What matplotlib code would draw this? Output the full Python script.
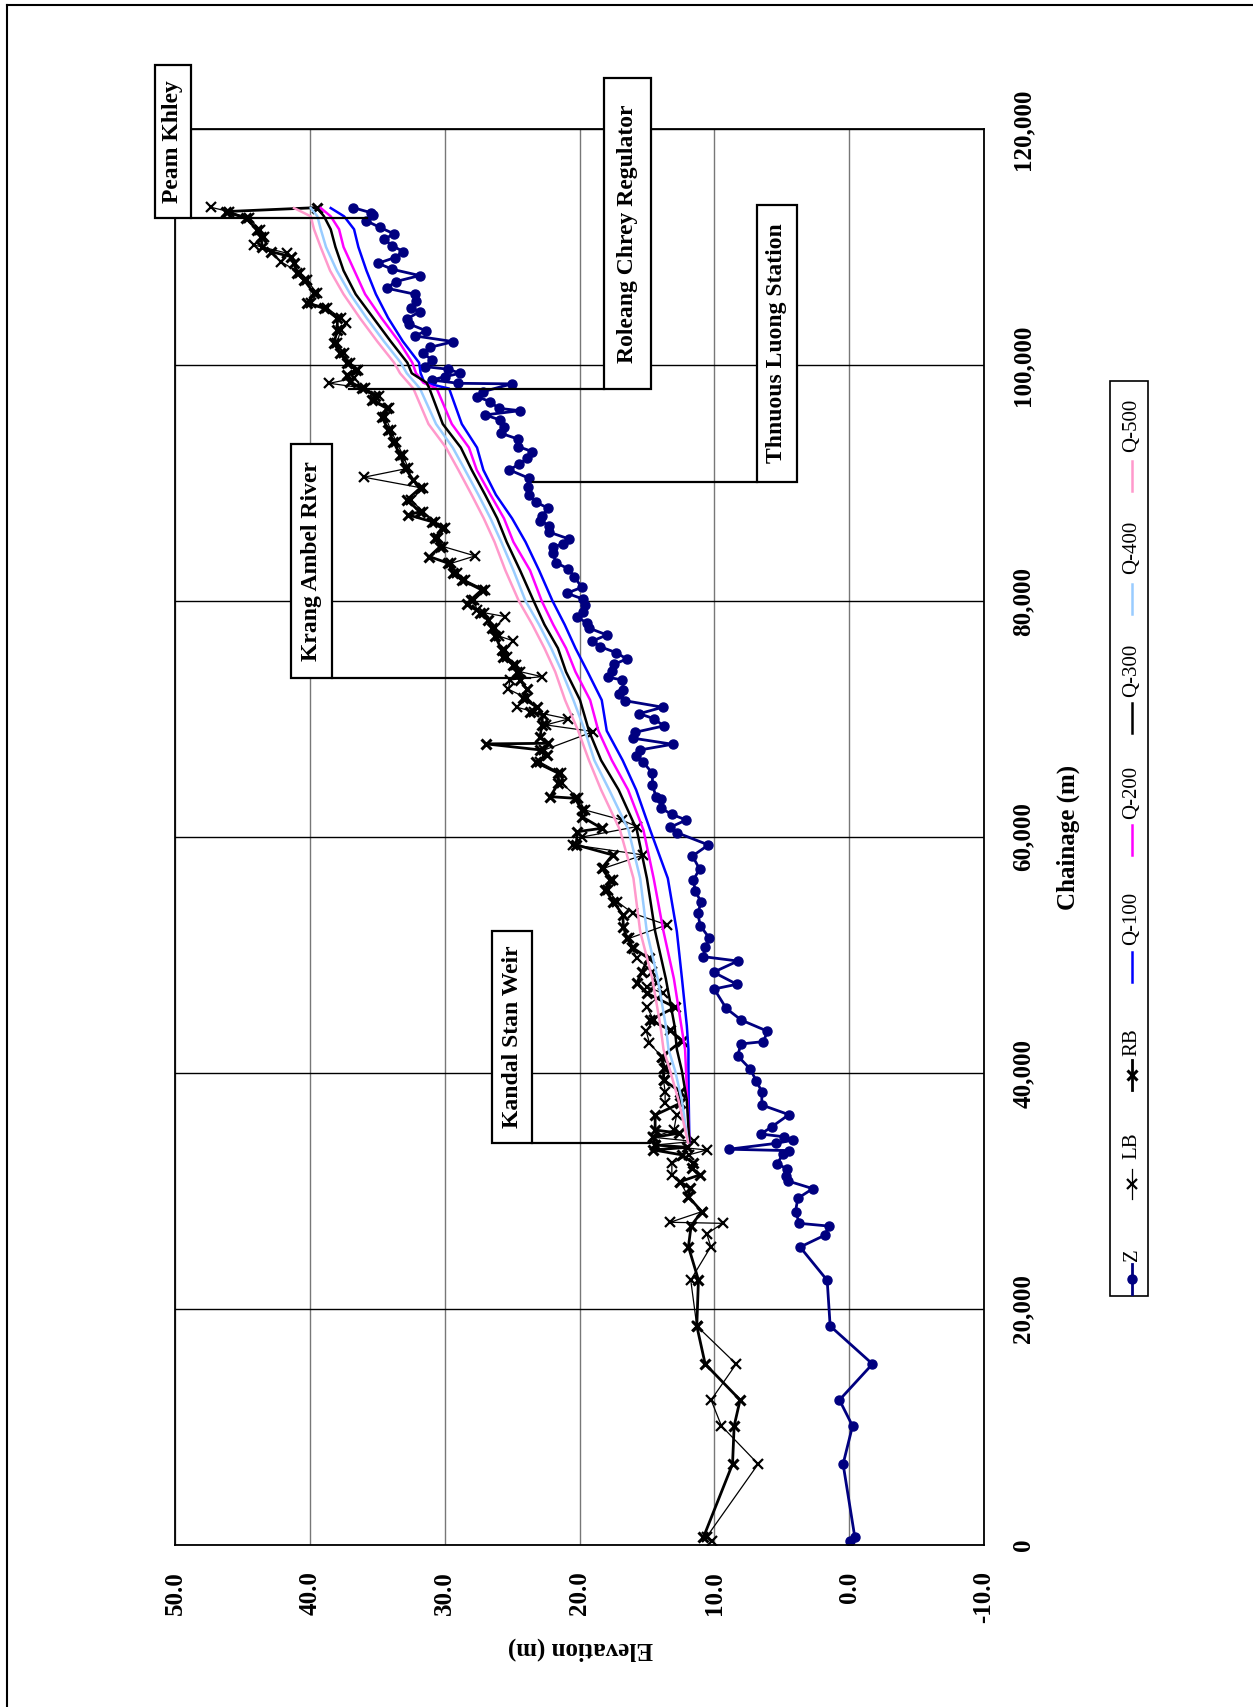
import matplotlib
matplotlib.use('Agg')
import matplotlib.pyplot as plt
from matplotlib.lines import Line2D
from matplotlib.patches import Rectangle

plt.rcParams['font.family'] = ['Liberation Serif', 'DejaVu Serif']

# bed level (Z) along the channel
z_chainage = [360, 650, 6860, 10090, 12290, 15340, 18560, 22430, 25250, 26270, 27030, 27260,
              28250, 29380, 30200, 30850, 31270, 31870, 32320, 33140, 33420, 33540, 34040, 34320,
              34600, 34830, 35450, 36470, 37290, 38420, 39350, 40340, 41440, 42460, 42660, 43540,
              44490, 45480, 47120, 47520, 48540, 49490, 49860, 50650, 51420, 52490, 53540, 54490,
              55430, 56360, 57290, 58390, 59330, 60370, 60820, 61440, 61920, 62430, 63220, 63420,
              64380, 65400, 66390, 66900, 67380, 67860, 68370, 68880, 69410, 70010, 70450, 71000,
              71550, 72100, 72460, 73310, 73540, 74070, 74640, 75090, 75620, 76130, 76610, 77120,
              77690, 78110, 78620, 79100, 79670, 80150, 80660, 81160, 82070, 82720, 83250, 84050,
              84610, 84810, 85260, 85830, 86360, 86810, 87210, 87860, 88370, 88990, 89690, 90400,
              91110, 91610, 92100, 92660, 93080, 93710, 94220, 94780, 95340, 95770, 96130, 96330,
              96900, 97320, 97750, 98400, 98450, 98730, 99010, 99300, 99640, 99860, 100430, 100990,
              101500, 101980, 102460, 102910, 103480, 103900, 104520, 104810, 105460, 106000, 106510,
              107070, 107580, 108110, 108620, 109100, 109610, 110120, 110660, 111110, 111670, 112240,
              112720, 112910, 113340]
z_elev = [-0.07, -0.42, 0.45, -0.25, 0.72, -1.73, 1.41, 1.63, 3.64, 1.78, 1.53, 3.69,
          3.98, 3.81, 2.70, 4.54, 4.71, 4.63, 5.32, 4.92, 4.43, 8.93, 5.41, 4.13,
          4.87, 6.55, 5.73, 4.47, 6.48, 6.48, 6.90, 7.34, 8.26, 8.04, 6.36, 6.06,
          8.01, 9.12, 10.01, 8.33, 10.06, 8.26, 10.81, 10.68, 10.36, 11.05, 11.22, 10.98,
          11.42, 11.55, 11.10, 11.62, 10.44, 12.78, 13.28, 12.09, 13.15, 13.95, 13.95, 14.32,
          14.59, 14.59, 15.31, 15.80, 15.50, 13.10, 16.00, 15.85, 13.77, 14.44, 15.56, 13.83,
          16.62, 17.04, 16.74, 16.82, 17.91, 17.56, 17.43, 16.49, 17.28, 18.47, 19.04, 17.97,
          19.26, 19.41, 20.15, 19.71, 19.56, 19.71, 20.94, 19.83, 20.40, 20.82, 21.74, 21.98,
          21.98, 21.19, 20.79, 22.23, 22.23, 22.90, 22.80, 22.31, 23.22, 23.72, 23.79, 23.74,
          25.20, 24.46, 23.86, 23.49, 24.53, 24.53, 25.84, 25.57, 25.89, 27.00, 24.41, 26.00,
          26.63, 27.62, 27.13, 25.02, 28.98, 30.96, 29.97, 28.86, 29.72, 31.45, 30.96, 31.58,
          31.08, 29.35, 32.17, 31.40, 32.64, 32.81, 31.85, 32.47, 32.15, 32.22, 34.30,
          33.63, 31.85, 33.88, 34.94, 33.70, 33.09, 33.88, 34.50, 33.75, 34.82, 35.85,
          35.31, 35.48, 36.80]

# left bank crest
lb_chainage = [300, 700, 6860, 10090, 12290, 15340, 18560, 22460, 25280, 26360, 27260, 27350,
               28250, 29520, 30790, 31360, 32350, 33060, 33480, 33900, 34200, 34550, 35170, 36440,
               37430, 38420, 39410, 40400, 41380, 42520, 43590, 44490, 45620, 46760, 47320, 47600,
               48590, 49720, 50570, 51420, 52550, 53540, 54520, 55510, 56360, 57350, 58480, 59330,
               60000, 60880, 61440, 62290, 63280, 64550, 65400, 66330, 67380, 68930, 69500, 70000,
               70620, 71000, 71760, 72520, 73310, 73590, 74010, 74580, 75280, 75850, 76640, 77040,
               77690, 78680, 79010, 79240, 80090, 80940, 81780, 82350, 83200, 83820, 84610, 85320,
               86160, 86730, 87570, 88560, 89560, 90490, 91250, 92380, 93510, 94500, 95630, 96330,
               97040, 97380, 98030, 98450, 98880, 99580, 100150, 101000, 101850, 102970, 103590,
               103960, 104810, 105230, 106080, 107210, 107780, 108760, 109470, 110170, 110880,
               111450, 112440, 113000, 113370]
lb_elev = [10.20, 10.56, 6.75, 9.47, 10.24, 8.38, 11.30, 11.75, 10.26, 10.56, 9.39, 13.28,
           10.93, 11.92, 12.54, 13.15, 13.15, 11.90, 10.56, 14.39, 11.50, 14.52, 13.00, 12.80,
           13.65, 13.65, 13.77, 13.60, 13.90, 14.81, 15.06, 14.50, 15.01, 13.83, 15.01, 14.27,
           14.60, 15.75, 16.10, 16.30, 13.52, 16.05, 17.20, 17.90, 17.50, 18.20, 15.26, 20.45,
           19.80, 15.75, 16.86, 19.60, 20.10, 21.30, 21.40, 22.90, 22.60, 18.97, 22.50, 20.82,
           23.40, 24.66, 23.90, 25.27, 25.15, 22.80, 24.40, 24.70, 25.40, 25.50, 24.96, 26.00,
           26.30, 25.52, 27.10, 27.62, 27.80, 27.00, 28.50, 29.10, 29.50, 27.74, 30.10, 30.50,
           30.00, 30.70, 31.60, 32.50, 31.60, 35.98, 32.70, 33.10, 33.60, 34.00, 34.40, 34.10,
           35.20, 34.90, 35.90, 38.55, 36.72, 36.40, 37.00, 37.50, 38.00, 37.70, 37.34,
           37.70, 38.70, 39.90, 39.50, 40.20, 40.70, 42.16, 41.67, 44.14, 43.40,
           43.70, 44.50, 46.00, 47.35]

# right bank crest
rb_chainage = [650, 6860, 10090, 12290, 15340, 18560, 22460, 25280, 27060, 28250, 29520, 30230,
               30790, 31360, 31930, 32350, 33060, 33480, 33700, 33900, 34550, 34900, 35170, 36440,
               37430, 38420, 39410, 40400, 41380, 42740, 43650, 44490, 45570, 46760, 47600, 48590,
               49720, 50570, 51420, 52400, 53390, 54520, 55510, 56360, 57350, 58480, 59330, 60450,
               60740, 61720, 62290, 63280, 63420, 64550, 65400, 66330, 66950, 67380, 67890, 67940,
               68500, 69500, 70340, 70620, 71000, 71760, 72520, 73310, 74010, 74580, 75280, 75850,
               77040, 77690, 78390, 79010, 79750, 80090, 80940, 81780, 82350, 83200, 83760, 84610,
               85320, 86160, 86730, 87290, 87570, 88560, 89560, 90260, 91250, 92380, 93510, 94500,
               95630, 96330, 97040, 97380, 98030, 98590, 99160, 99580, 100150, 101000, 101850,
               102970, 103960, 104810, 105230, 106080, 107210, 107780, 108620, 109190, 109610,
               110030, 110880, 111450, 112440, 113000, 113340]
rb_elev = [10.81, 8.65, 8.53, 8.09, 10.68, 11.30, 11.18, 11.92, 11.72, 10.93, 11.92, 11.80,
           12.54, 11.10, 11.67, 11.55, 12.40, 14.52, 12.00, 14.39, 14.52, 12.60, 14.39, 14.39,
           12.54, 12.54, 13.77, 13.77, 13.90, 12.41, 13.28, 14.76, 12.91, 15.01, 15.75, 15.38,
           14.88, 16.00, 16.49, 16.74, 16.79, 17.48, 18.10, 17.73, 18.35, 17.54, 20.25, 20.15,
           18.35, 19.83, 19.83, 20.33, 22.18, 21.56, 21.56, 23.22, 22.43, 22.92, 26.93, 22.36,
           22.92, 22.80, 22.73, 23.67, 23.17, 24.16, 23.91, 24.41, 24.66, 24.90, 25.64, 25.77,
           26.26, 26.51, 26.76, 27.37, 28.36, 28.07, 27.25, 28.73, 29.36, 29.73, 31.13, 30.34,
           30.71, 30.21, 30.96, 32.69, 31.83, 32.81, 31.83, 32.32, 32.94, 33.31, 33.80, 34.18,
           34.67, 34.30, 35.41, 35.16, 36.15, 37.02, 37.27, 36.60, 37.22, 37.76, 38.21,
           37.96, 37.96, 38.95, 40.19, 39.69, 40.43, 40.93, 41.17, 41.42, 42.90,
           43.52, 43.64, 43.89, 44.75, 46.24, 39.44]

# water surface profiles for each discharge
q_chainage = [34100, 37700, 40200, 42000, 44000, 48000, 52000, 56500, 60600, 64000, 66500, 69000,
              71600, 74000, 76000, 78000, 80000, 82600, 85000, 87000, 89000, 91100, 93000, 95000,
              98000, 98500, 99300, 100200, 102000, 104000, 106000, 108000, 110000, 111500, 112600,
              113300]
q100 = [11.85, 11.90, 11.92, 11.92, 12.04, 12.40, 12.78, 13.45, 14.76, 15.80, 16.80, 17.98,
        18.35, 19.40, 20.30, 21.10, 22.00, 23.00, 24.00, 25.00, 26.20, 27.13, 27.60, 28.73,
        29.67, 31.50, 31.78, 31.90, 33.10, 34.20, 35.10, 35.80, 36.40, 36.72, 37.46, 38.45]
q200 = [11.85, 12.00, 12.10, 12.17, 12.45, 13.00, 13.77, 14.50, 15.26, 16.40, 17.60, 18.60,
        19.21, 20.30, 21.00, 21.95, 22.80, 23.67, 24.90, 25.60, 26.60, 27.62, 28.20, 29.47,
        30.59, 31.58, 32.12, 32.40, 33.40, 34.70, 35.90, 36.70, 37.50, 37.83, 38.45, 39.19]
q300 = [11.85, 12.04, 12.41, 12.78, 12.95, 13.60, 14.39, 15.00, 15.75, 17.10, 18.40, 19.30,
        19.96, 21.00, 21.60, 22.60, 23.40, 24.41, 25.40, 26.10, 27.00, 27.99, 28.80, 30.14,
        31.13, 31.34, 32.44, 32.77, 34.00, 35.30, 36.60, 37.50, 38.10, 38.45, 38.95, 39.44]
q400 = [11.95, 12.41, 12.91, 13.40, 13.60, 14.20, 15.01, 15.50, 16.37, 17.80, 18.90, 19.60,
        20.45, 21.30, 22.10, 23.00, 24.00, 24.90, 25.80, 26.60, 27.50, 28.49, 29.40, 30.64,
        31.83, 32.20, 32.81, 33.26, 34.50, 35.80, 37.00, 38.00, 38.80, 39.19, 39.44, 39.93]
q500 = [11.95, 12.66, 13.28, 13.77, 14.00, 14.60, 15.50, 16.00, 17.00, 18.40, 19.30, 20.10,
        21.07, 21.80, 22.60, 23.50, 24.50, 25.50, 26.30, 27.10, 28.00, 28.98, 29.90, 31.20,
        32.32, 32.70, 33.31, 33.75, 35.00, 36.30, 37.50, 38.50, 39.20, 39.69, 39.93, 41.17]

elev_ticks = [50, 40, 30, 20, 10, 0, -10]
chain_ticks = [0, 20000, 40000, 60000, 80000, 100000, 120000]

W, H = 1253, 1707
fig = plt.figure(figsize=(W / 100, H / 100), dpi=100)


def fx(px):
    return px / W


def fy(py):
    return 1 - py / H


# page is laid out sideways: elevation runs across, chainage runs up
ax = fig.add_axes([fx(175), fy(1545), (984 - 175) / W, (1545 - 129) / H])
ax.set_xlim(50, -10)
ax.set_ylim(0, 120000)

ax.set_axisbelow(True)
ax.xaxis.grid(True, color='#777777', lw=1.0)
ax.yaxis.grid(True, color='black', lw=1.0)
for sp in ax.spines.values():
    sp.set_color('black')
    sp.set_linewidth(1.3)

series = [
    ('Z', z_elev, z_chainage, dict(color='#000080', lw=2.0, marker='o', ms=6.5)),
    ('LB', lb_elev, lb_chainage, dict(color='black', lw=0.9, marker='x', ms=7, mew=1.6)),
    ('RB', rb_elev, rb_chainage, dict(color='black', lw=2.0, marker='x', ms=7, mew=2.2)),
    ('Q-100', q100, q_chainage, dict(color='#0000ff', lw=1.8)),
    ('Q-200', q200, q_chainage, dict(color='#ff00ff', lw=1.8)),
    ('Q-300', q300, q_chainage, dict(color='black', lw=1.8)),
    ('Q-400', q400, q_chainage, dict(color='#99ccff', lw=1.8)),
    ('Q-500', q500, q_chainage, dict(color='#ff99cc', lw=1.8)),
]
for name, xs, ys, style in series:
    ax.plot(xs, ys, label=name, **style)

ax.set_xticks(elev_ticks)
ax.set_xticklabels([f'{v:.1f}' for v in elev_ticks], rotation=90, fontsize=18,
                   fontweight='bold', va='top', ha='center')
ax.tick_params(axis='x', length=0, pad=19)

ax.yaxis.tick_right()
ax.set_yticks(chain_ticks)
ax.set_yticklabels([f'{v:,}' for v in chain_ticks], rotation=90, fontsize=18,
                   fontweight='bold', va='center', ha='left')
ax.tick_params(axis='y', length=0, pad=20)

fig.text(fx(580), fy(1649), 'Elevation (m)', rotation=180, ha='center', va='center',
         fontsize=18, fontweight='bold')
fig.text(fx(1068), fy(837), 'Chainage (m)', rotation=90, ha='center', va='center',
         fontsize=18, fontweight='bold')


# labelled boxes with a leader line running along the box's lower edge
def callout(text, e_left, e_right, c_low, c_high, e_tip):
    ax.add_patch(Rectangle((min(e_left, e_right), c_low), abs(e_left - e_right), c_high - c_low,
                           fc='white', ec='black', lw=1.6, clip_on=False, zorder=6))
    ax.text((e_left + e_right) / 2, (c_low + c_high) / 2, text, rotation=90, ha='center',
            va='center', fontsize=17, fontweight='bold', clip_on=False, zorder=7)
    near = e_right if abs(e_right - e_tip) < abs(e_left - e_tip) else e_left
    ax.plot([near, e_tip], [c_low, c_low], color='black', lw=1.6, clip_on=False, zorder=6)


callout('Peam Khley', 51.51, 48.85, 112490, 125400, 35.76)
callout('Roleang Chrey Regulator', 18.16, 14.69, 98000, 124300, 37.10)
callout('Thnuous Luong Station', 6.86, 3.87, 90060, 113590, 23.44)
callout('Krang Ambel River', 41.42, 38.35, 73460, 93290, 23.67)
callout('Kandal Stan Weir', 26.48, 23.49, 34070, 52050, 14.76)

# legend drawn sideways to the right of the chart
fig.add_artist(Rectangle((fx(1110), fy(1296)), fx(1148) - fx(1110), fy(381) - fy(1296),
                         transform=fig.transFigure, fc='white', ec='black', lw=1.2))
handle_mid = [1279, 1184, 1075, 967, 840, 718, 599, 476]
text_start = [1261, 1159, 1056, 945, 819, 697, 574, 452]
for (name, _, _, style), hy, ty in zip(series, handle_mid, text_start):
    st = dict(style)
    st['lw'] = min(st['lw'], 2.0)
    fig.add_artist(Line2D([fx(1132)] * 3, [fy(hy + 15), fy(hy), fy(hy - 15)],
                          transform=fig.transFigure, markevery=[1], **st))
    fig.text(fx(1132), fy(ty), name, rotation=90, rotation_mode='anchor', ha='left',
             va='center', fontsize=15)

# page border
fig.add_artist(Line2D([fx(7), fx(7)], [fy(5), 0], transform=fig.transFigure,
                      color='black', lw=1.5))
fig.add_artist(Line2D([fx(7), 1], [fy(5), fy(5)], transform=fig.transFigure,
                      color='black', lw=1.5))

fig.savefig('out.png', dpi=100, facecolor='white')
